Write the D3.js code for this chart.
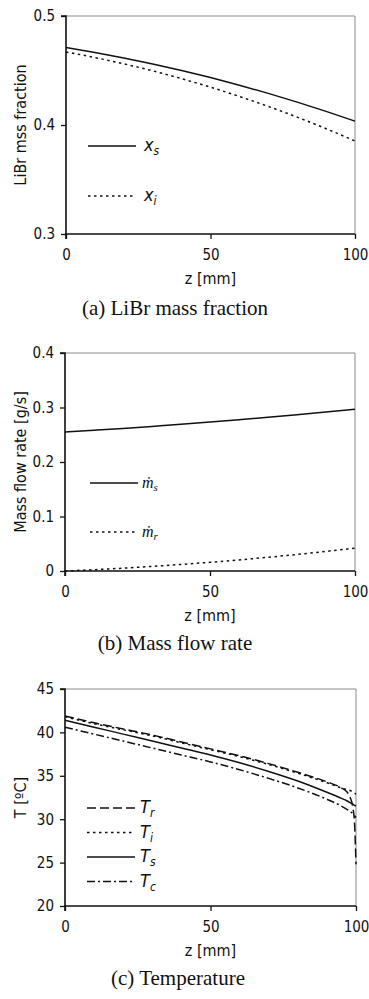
<!DOCTYPE html>
<html>
<head>
<meta charset="utf-8">
<script src="https://cdn.jsdelivr.net/npm/d3@7"></script>
<style>
  body { margin: 0; background: #fff; }
  svg { display: block; }
  .tick text { font-family: "DejaVu Sans Condensed", "DejaVu Sans", sans-serif; font-size: 15px; fill: #111; }
</style>
</head>
<body>
<script>
// z positions [mm]
const zA = [0, 10, 20, 30, 40, 50, 60, 70, 80, 90, 100];
const zT = [0, 10, 20, 30, 40, 50, 60, 70, 80, 90, 95, 97, 98, 99, 99.5, 100];

// (a) LiBr mass fraction
const xS = [0.471, 0.4665, 0.4615, 0.456, 0.45, 0.4435, 0.4365, 0.429, 0.421, 0.4125, 0.4035];
const xI = [0.467, 0.4619, 0.4561, 0.4497, 0.4425, 0.4347, 0.4262, 0.417, 0.4072, 0.3966, 0.3854];

// (b) mass flow rate [g/s]
const mS = [0.255, 0.2582, 0.2616, 0.2653, 0.2691, 0.2732, 0.2775, 0.282, 0.2868, 0.2917, 0.2969];
const mR = [0, 0.0024, 0.0052, 0.0084, 0.012, 0.016, 0.0204, 0.0252, 0.0304, 0.036, 0.042];

// (c) temperature [C]
const tR = [41.9, 41.1, 40.4, 39.7, 38.9, 38.1, 37.3, 36.4, 35.4, 34.3, 33.6, 33.1, 32.5, 31.2, 29.5, 24.8];
const tI = [41.8, 41.0, 40.3, 39.6, 38.8, 38.0, 37.2, 36.3, 35.3, 34.2, 33.6, 33.4, 33.3, 33.1, 33.0, 32.9];
const tS = [41.4, 40.6, 39.8, 39.0, 38.2, 37.4, 36.5, 35.5, 34.4, 33.1, 32.4, 32.1, 31.9, 31.7, 31.6, 31.5];
const tC = [40.6, 39.8, 39.0, 38.2, 37.4, 36.6, 35.7, 34.7, 33.6, 32.3, 31.5, 31.1, 30.9, 30.6, 30.4, 30.2];

const xTicks = [0, 50, 100];

const W = 369, H = 999;
const svg = d3.select('body').append('svg')
  .attr('width', W)
  .attr('height', H);

const sans = '"DejaVu Sans Condensed", "DejaVu Sans", sans-serif';
const dashes = {
  solid: null,
  dotted: '2.5,3.5',
  dashed: '9,4',
  dashdot: '8,3,2,3'
};

function panel(cfg) {
  const left = cfg.left, top = cfg.top, w = cfg.w, h = cfg.h;
  const g = svg.append('g').attr('transform', `translate(${left},${top})`);

  const x = d3.scaleLinear().domain([0, 100]).range([0, w]);
  const y = d3.scaleLinear().domain(cfg.yDomain).range([h, 0]);

  // grey frame top/right
  g.append('path')
    .attr('d', `M0,0H${w}V${h}`)
    .attr('fill', 'none')
    .attr('stroke', '#8a8a8a')
    .attr('stroke-width', 1);

  const yAxis = g.append('g')
    .call(d3.axisLeft(y).tickValues(cfg.yTicks).tickFormat(cfg.yFormat).tickSize(5).tickPadding(6));
  const xAxis = g.append('g')
    .attr('transform', `translate(0,${h})`)
    .call(d3.axisBottom(x).tickValues(xTicks).tickSize(5).tickPadding(10));
  [yAxis, xAxis].forEach(a => {
    a.select('.domain').attr('stroke', '#111').attr('stroke-width', 1.6);
    a.selectAll('.tick line').attr('stroke', '#111').attr('stroke-width', 1.3);
  });
  yAxis.select('.domain').attr('d', `M-5,0H0V${h}`);
  xAxis.select('.domain').attr('d', `M0,5V0H${w}`);

  // curves
  cfg.series.forEach(s => {
    const line = d3.line()
      .x((d, i) => x(s.z[i]))
      .y(d => y(d))
      .curve(d3.curveMonotoneX);
    g.append('path')
      .datum(s.values)
      .attr('fill', 'none')
      .attr('stroke', '#111')
      .attr('stroke-width', 1.5)
      .attr('stroke-dasharray', dashes[s.style])
      .attr('d', line);
  });

  // legend
  const lg = g.append('g').attr('transform', `translate(${cfg.legX},${cfg.legY})`);
  cfg.series.forEach((s, i) => {
    const row = lg.append('g').attr('transform', `translate(0,${i * cfg.legStep})`);
    row.append('line')
      .attr('x1', 0).attr('x2', 48)
      .attr('stroke', '#111')
      .attr('stroke-width', 1.5)
      .attr('stroke-dasharray', dashes[s.style]);
    const t = row.append('text')
      .attr('x', cfg.labelDx)
      .attr('y', 5)
      .attr('font-family', cfg.labelFont)
      .attr('font-style', 'italic')
      .attr('font-size', cfg.labelSize)
      .attr('fill', '#111');
    t.append('tspan').text(s.sym);
    t.append('tspan')
      .attr('dy', cfg.subDy)
      .attr('font-size', cfg.subSize)
      .text(s.sub);
  });

  // axis titles
  g.append('text')
    .attr('x', w / 2)
    .attr('y', h + 50)
    .attr('text-anchor', 'middle')
    .attr('font-family', sans)
    .attr('font-size', 16)
    .attr('fill', '#111')
    .text('z [mm]');

  g.append('text')
    .attr('transform', `translate(${20 - left},${h / 2}) rotate(-90)`)
    .attr('text-anchor', 'middle')
    .attr('dy', '0.35em')
    .attr('font-family', sans)
    .attr('font-size', 16)
    .attr('fill', '#111')
    .text(cfg.yTitle);

  // caption
  g.append('text')
    .attr('x', cfg.capX - left)
    .attr('y', cfg.capY - top)
    .attr('text-anchor', 'middle')
    .attr('font-family', '"Liberation Serif", "Times New Roman", serif')
    .attr('font-size', 21)
    .attr('fill', '#111')
    .text(cfg.caption);
}

panel({
  left: 66, top: 16, w: 289, h: 218,
  yDomain: [0.3, 0.5], yTicks: [0.3, 0.4, 0.5], yFormat: d3.format('.1f'),
  yTitle: 'LiBr mss fraction',
  series: [
    {z: zA, values: xS, style: 'solid', sym: 'x', sub: 's'},
    {z: zA, values: xI, style: 'dotted', sym: 'x', sub: 'i'}
  ],
  legX: 22, legY: 130, legStep: 50, labelDx: 56,
  labelFont: sans, labelSize: 18, subSize: 12, subDy: 4,
  caption: '(a) LiBr mass fraction', capX: 175, capY: 315
});

panel({
  left: 65, top: 353, w: 290, h: 218,
  yDomain: [0, 0.4], yTicks: [0, 0.1, 0.2, 0.3, 0.4],
  yFormat: d => d === 0 ? '0' : d3.format('.1f')(d),
  yTitle: 'Mass flow rate [g/s]',
  series: [
    {z: zA, values: mS, style: 'solid', sym: '\u1E41', sub: 's'},
    {z: zA, values: mR, style: 'dotted', sym: '\u1E41', sub: 'r'}
  ],
  legX: 25, legY: 130, legStep: 49, labelDx: 52,
  labelFont: '"Liberation Serif", "Times New Roman", serif', labelSize: 16, subSize: 11, subDy: 3,
  caption: '(b) Mass flow rate', capX: 175, capY: 650
});

panel({
  left: 65, top: 689, w: 291, h: 217,
  yDomain: [20, 45], yTicks: [20, 25, 30, 35, 40, 45], yFormat: d3.format('d'),
  yTitle: 'T [\u00BAC]',
  series: [
    {z: zT, values: tR, style: 'dashed', sym: 'T', sub: 'r'},
    {z: zT, values: tI, style: 'dotted', sym: 'T', sub: 'i'},
    {z: zT, values: tS, style: 'solid', sym: 'T', sub: 's'},
    {z: zT, values: tC, style: 'dashdot', sym: 'T', sub: 'c'}
  ],
  legX: 22, legY: 119, legStep: 24.5, labelDx: 53,
  labelFont: sans, labelSize: 18, subSize: 12, subDy: 4,
  caption: '(c) Temperature', capX: 178, capY: 985
});
</script>
</body>
</html>
